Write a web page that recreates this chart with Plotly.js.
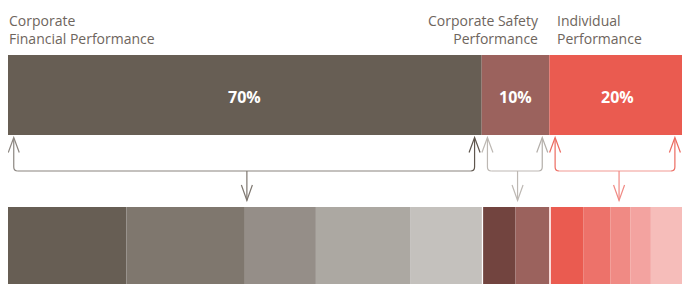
<!DOCTYPE html>
<html>
<head>
<meta charset="utf-8">
<script src="https://cdn.plot.ly/plotly-3.0.1.min.js"></script>
<style>html,body{margin:0;padding:0;background:#fff;}#chart{width:682px;height:284px;}</style>
</head>
<body>
<div id="chart"></div>
<script>
// ---- data ----
var groupNames = ["Corporate<br>Financial Performance", "Corporate Safety<br>Performance", "Individual<br>Performance"];
var groupWeights = [70, 10, 20];
var groupLabels = ["70%", "10%", "20%"];
var groupColors = ["#675e54", "#9b625d", "#ea5b50"];
// sub-components (bottom row), grouped
var subValues = [
  [17.5, 17.5, 10.5, 14, 10.5],
  [5, 5],
  [5, 4, 3, 3, 5]
];
var subColors = [
  ["#675e54", "#7f776e", "#958e88", "#aca8a2", "#c4c1bd"],
  ["#72443f", "#9b625d"],
  ["#ea5b50", "#ed726a", "#f08a84", "#f3a3a0", "#f6bdba"]
];
var connectorColors = [
  {left: "#8c8680", line: "#8a847e", right: "#5f564e", down: "#7d766f"},
  {left: "#bdb8b3", line: "#bdb8b3", right: "#b3aea9", down: "#bdb8b3"},
  {left: "#ec6b61", line: "#f19a94", right: "#ec6b61", down: "#f08a84"}
];

// ---- layout constants (pixel-based y axis) ----
var W = 682, H = 284, ML = 8;
var pxPerUnit = 6.767;
var xMax = (W - ML) / pxPerUnit;
var topY = 95, topH = 80;
var botY = 245.5, botH = 77;

// cumulative bases
var topBase = [], acc = 0;
groupWeights.forEach(function (w) { topBase.push(acc); acc += w; });

var traces = [];
traces.push({
  type: "bar", orientation: "h",
  x: groupWeights, base: topBase, y: groupWeights.map(function () { return topY; }),
  width: topH,
  marker: {color: groupColors, line: {width: 0}},
  hoverinfo: "skip", showlegend: false
});

var bx = [], bb = [], bc = [];
subValues.forEach(function (arr, g) {
  var a = topBase[g];
  arr.forEach(function (v, i) { bx.push(v); bb.push(a); bc.push(subColors[g][i]); a += v; });
});
traces.push({
  type: "bar", orientation: "h",
  x: bx, base: bb, y: bx.map(function () { return botY; }),
  width: botH,
  marker: {color: bc, line: {width: 0}},
  hoverinfo: "skip", showlegend: false
});

// connectors
var shapes = [];
var yTip = 137.5, yLine = 171, yHead = 152.5, yDown = 200.5, yDownHead = 185;
var r = 4 / pxPerUnit, aw = 5.5 / pxPerUnit;
groupWeights.forEach(function (w, g) {
  var start = topBase[g], end = topBase[g] + w;
  var x0 = start + 0.85, x1 = Math.min(end, xMax) - 1.05;
  var xm = (start + end) / 2 + 0.3;
  var c = connectorColors[g];
  function P(d, col) {
    shapes.push({type: "path", xref: "x", yref: "y", path: d, line: {color: col, width: 1.2}});
  }
  P("M" + x0 + "," + (yTip + 1) + " L" + x0 + "," + (yLine - 4) + " Q" + x0 + "," + yLine + " " + (x0 + r) + "," + yLine, c.left);
  P("M" + (x0 + r) + "," + yLine + " L" + (x1 - r) + "," + yLine, c.line);
  P("M" + (x1 - r) + "," + yLine + " Q" + x1 + "," + yLine + " " + x1 + "," + (yLine - 4) + " L" + x1 + "," + (yTip + 1), c.right);
  P("M" + (x0 - aw) + "," + yHead + " L" + x0 + "," + yTip + " L" + (x0 + aw) + "," + yHead, c.left);
  P("M" + (x1 - aw) + "," + yHead + " L" + x1 + "," + yTip + " L" + (x1 + aw) + "," + yHead, c.right);
  P("M" + xm + "," + yLine + " L" + xm + "," + yDown, c.down);
  P("M" + (xm - aw) + "," + yDownHead + " L" + xm + "," + yDown + " L" + (xm + aw) + "," + yDownHead, c.down);
  // white separators in bottom row between groups
  if (g > 0) {
    shapes.push({type: "line", xref: "x", yref: "y", x0: start + 0.1, x1: start + 0.1,
      y0: botY - botH / 2, y1: botY + botH / 2, line: {color: "#ffffff", width: 1.5}, layer: "above"});
  }
});

// group titles
var font = {family: "Open Sans, sans-serif", size: 14, color: "#6e655d"};
var annotations = [
  {x: topBase[0], xref: "x", y: 50, yref: "y", yanchor: "bottom", xanchor: "left", align: "left",
   text: groupNames[0], showarrow: false, font: font, xshift: -1},
  {x: topBase[1] + groupWeights[1], xref: "x", y: 50, yref: "y", yanchor: "bottom", xanchor: "right", align: "right",
   text: groupNames[1], showarrow: false, font: font, xshift: -8},
  {x: topBase[2], xref: "x", y: 50, yref: "y", yanchor: "bottom", xanchor: "left", align: "left",
   text: groupNames[2], showarrow: false, font: font, xshift: 6}
];
// percentage labels centred on each top segment
groupWeights.forEach(function (w, g) {
  annotations.push({x: topBase[g] + w / 2, xref: "x", y: topY + 2, yref: "y",
    text: groupLabels[g], showarrow: false,
    font: {family: "Open Sans, sans-serif", size: 16, color: "#ffffff", weight: "bold"}});
});

var layout = {
  width: W, height: H,
  margin: {l: ML, r: 0, t: 0, b: 0, pad: 0},
  paper_bgcolor: "#ffffff", plot_bgcolor: "#ffffff",
  barmode: "overlay",
  xaxis: {range: [0, xMax], visible: false, fixedrange: true},
  yaxis: {range: [H, 0], visible: false, fixedrange: true},
  shapes: shapes, annotations: annotations,
  hovermode: false, showlegend: false
};
Plotly.newPlot("chart", traces, layout, {staticPlot: true, displayModeBar: false});
</script>
</body>
</html>
